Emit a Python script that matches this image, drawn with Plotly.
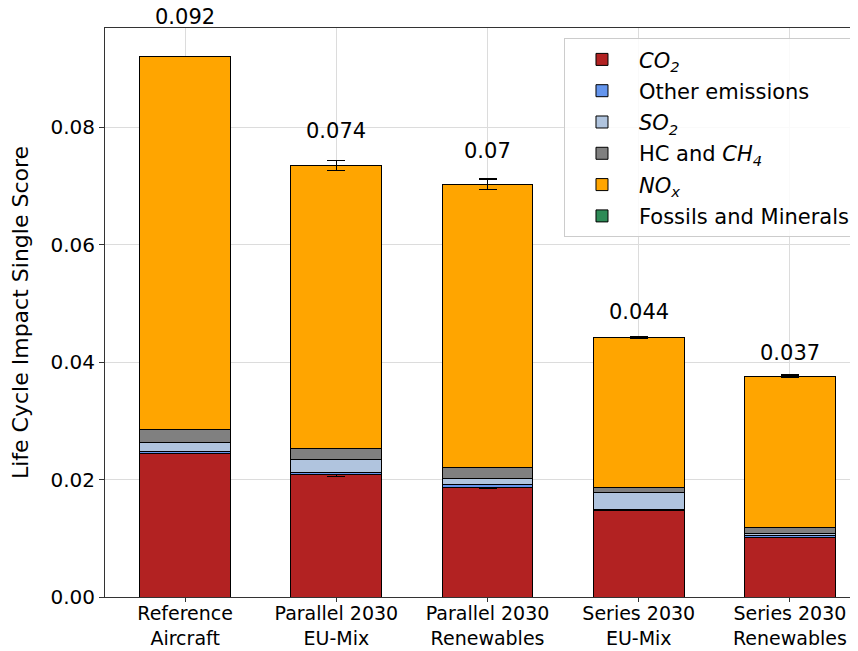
import plotly.graph_objects as go

categories = ["Reference<br>Aircraft", "Parallel 2030<br>EU-Mix", "Parallel 2030<br>Renewables",
              "Series 2030<br>EU-Mix", "Series 2030<br>Renewables"]

co2 = [0.02446, 0.02088, 0.01867, 0.01481, 0.01021]
other = [0.00039, 0.00040, 0.00045, 0.00010, 0.00023]
so2 = [0.00142, 0.00215, 0.00108, 0.00291, 0.00045]
hc = [0.00227, 0.00182, 0.00187, 0.00085, 0.00097]
nox = [0.06346, 0.04825, 0.04823, 0.02553, 0.02574]
fossils = [0.0, 0.0, 0.0, 0.0, 0.0]

co2_err = [0.0, 0.0004, 0.0002, 0.0001, 0.0001]
other_err = [0.0, 0.0, 0.0, 0.0, 0.0]
so2_err = [0.0, 0.0, 0.0, 0.0, 0.0]
hc_err = [0.0, 0.0, 0.0, 0.0, 0.0]
nox_err = [0.0, 0.0009, 0.0009, 0.0002, 0.0002]

total_labels = ["0.092", "0.074", "0.07", "0.044", "0.037"]

series = [
    ("<i>CO<sub>2</sub></i>", co2, co2_err, "#b22222"),
    ("Other emissions", other, other_err, "#6495ed"),
    ("<i>SO<sub>2</sub></i>", so2, so2_err, "#b0c4de"),
    ("HC and <i>CH<sub>4</sub></i>", hc, hc_err, "#808080"),
    ("<i>NO<sub>x</sub></i>", nox, nox_err, "#ffa500"),
    ("Fossils and Minerals", fossils, None, "#2e8b57"),
]

FONT = "DejaVu Sans"
W, H = 850, 643
M = dict(l=97, r=0, t=20, b=54)
Y_MAX = 0.0969

fig = go.Figure()
xs = list(range(len(categories)))
for k, (name, vals, err, color) in enumerate(series):
    kw = {}
    if err is not None:
        kw["error_y"] = dict(type="data", array=err, visible=True, color="black",
                             thickness=1.2, width=9)
    fig.add_trace(go.Bar(x=xs, y=vals, name=name, width=0.6, legendgroup=f"g{k}",
                         marker=dict(color=color, line=dict(color="black", width=1)),
                         **kw))

# total labels: anchored at the bar top, lifted by an offset that grows with the total
totals = [sum(v) for v in zip(co2, other, so2, hc, nox, fossils)]
px_per_unit = (H - M["t"] - M["b"]) / Y_MAX
for i, (t, lab) in enumerate(zip(totals, total_labels)):
    lift = t * 0.0533 + 0.0019
    fig.add_annotation(x=i, y=t, text=lab, showarrow=False, yanchor="middle",
                       yshift=lift * px_per_unit,
                       font=dict(family=FONT, size=21, color="black"))

# the page body has an 8px margin, so the figure is sized to fit the 858x651 window
fig.update_layout(
    width=W, height=H,
    barmode="stack",
    plot_bgcolor="white", paper_bgcolor="white",
    margin=dict(**M, autoexpand=False),
    font=dict(family=FONT, size=19, color="black"),
    showlegend=True,
    legend=dict(x=0.996, y=0.982, xanchor="right", yanchor="top",
                traceorder="grouped", bgcolor="rgba(255,255,255,0.85)",
                bordercolor="#cccccc", borderwidth=1,
                font=dict(family=FONT, size=21, color="black"),
                itemwidth=64, tracegroupgap=1),
)
fig.update_xaxes(range=[-0.53, 4.45], tickmode="array", tickvals=xs, ticktext=categories,
                 showgrid=True, gridcolor="#dcdcdc", gridwidth=1, automargin=False,
                 showline=True, linecolor="#333333", linewidth=1, mirror=True,
                 ticks="outside", ticklen=4, tickcolor="#333333", ticklabelstandoff=-5,
                 tickfont=dict(family=FONT, size=19, color="black"), zeroline=False)
fig.update_yaxes(range=[0, Y_MAX], dtick=0.02, tickformat=".2f", automargin=False,
                 showgrid=True, gridcolor="#dcdcdc", gridwidth=1,
                 showline=True, linecolor="#333333", linewidth=1, mirror=True,
                 ticks="outside", ticklen=5, tickcolor="#333333",
                 tickfont=dict(family=FONT, size=20, color="black"), zeroline=False,
                 title=dict(text="Life Cycle Impact Single Score",
                            font=dict(family=FONT, size=22, color="black"), standoff=20))

fig.write_html("out.html")
